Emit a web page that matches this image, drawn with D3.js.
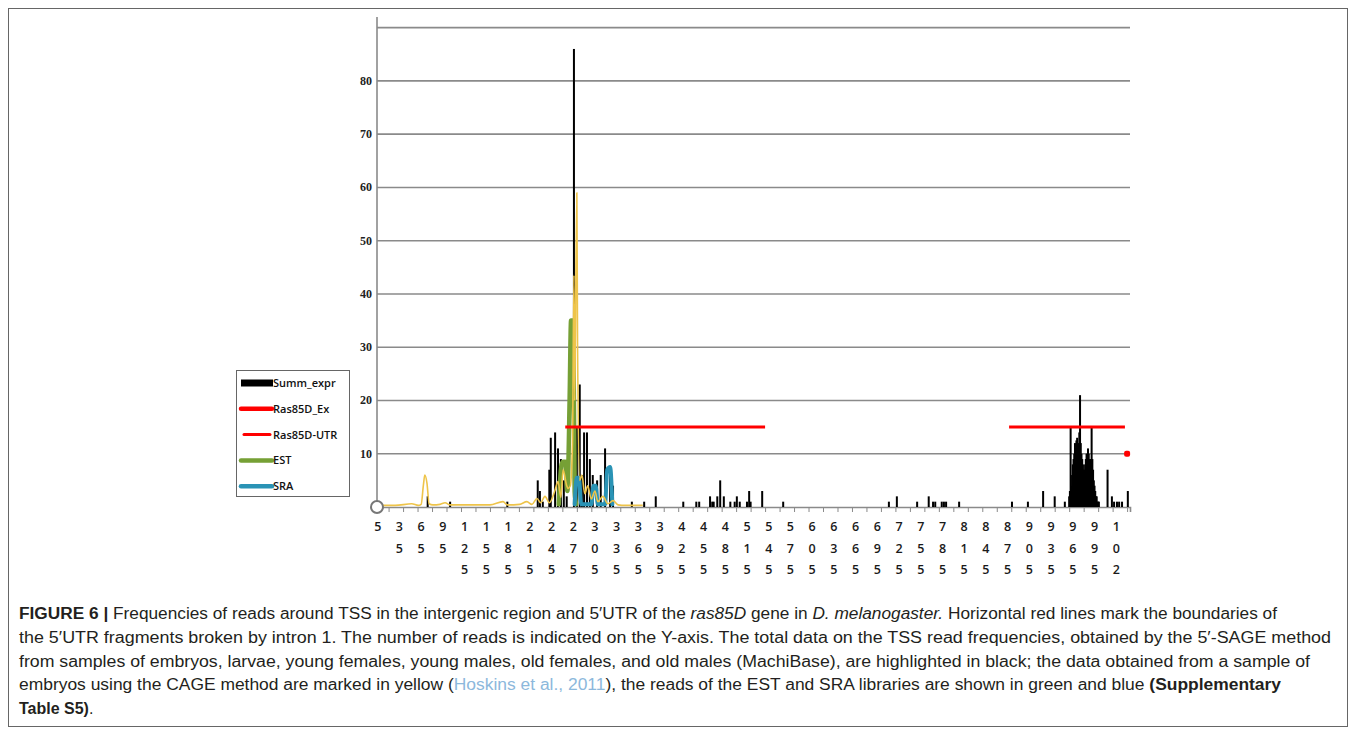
<!DOCTYPE html>
<html>
<head>
<meta charset="utf-8">
<script src="https://cdnjs.cloudflare.com/ajax/libs/d3/7.8.5/d3.min.js"></script>
<style>
  body { margin: 0; background: #fff; }
  svg { display: block; }
</style>
</head>
<body>
<svg id="drawing_region"></svg>
<script>
// x tick labels (positions along the intergenic region, every 30 bp)
const xLabels = ["5","35","65","95","125","155","185","215","245","275","305","335","365","395","425","455","485","515","545","575","605","635","665","695","725","755","785","815","845","875","905","935","965","995","1025"];
const xLabelPos = [5,35,65,95,125,155,185,215,245,275,305,335,365,395,425,455,485,515,545,575,605,635,665,695,725,755,785,815,845,875,905,935,965,995,1025];
const yTicks = [10,20,30,40,50,60,70,80,90];

// Summ_expr (5'-SAGE) reads: position, count
const summPos = [74,105,184,226,229,233,242,244,250,254,258,262,266,276,280,284,287,290,294,298,302,308,313,319,326,330,356,373,389,
  427,445,449,464,467,469,474,478,483,492,498,501,505,515,518,520,536,565,711,722,750,766,772,775,784,787,790,808,881,903,924,940,954,
  960,961,962,963,964,965,966,967,968,969,970,971,972,973,974,975,976,977,978,979,980,981,982,983,984,985,986,987,988,989,990,991,992,993,994,995,996,997,998,999,1000,1001,
  1013,1019,1022,1026,1029,1033,1041];
const summVal = [2,1,1,5,3,1,7,13,14,11,9,5,2,86,15,23,6,14,14,9,6,5,6,11,7,4,1,1,2,
  1,1,1,2,1,1,2,5,2,1,1,2,1,1,3,1,3,1,1,2,1,2,1,1,1,1,1,1,1,1,3,2,1,
  2,3,15,4,6,8,9,10,12,11,12.5,13,11,12,14,21,12,10,9,8,7,7,8,9,10,10,11,10,9,8,9,15,9,7,5,4,3,2,2,1,1,1,
  7,2,1,1,1,1,3];

// CAGE (yellow)
const cagePos = [8,29,52,61,65,68,70,73,76,81,91,98,105,126,160,178,184,201,211,218,225,230,236,242,250,254,258,261,266,268,271,274,276,277,280,281,284,287,291,295,300,305,309,316,323,330,337,347,371];
const cageVal = [0.3,0.3,0.6,0.3,0.5,4,6,4.5,0.6,0.4,0.5,0.8,0.4,0.4,0.4,1,0.4,0.5,1,0.5,1.6,0.8,2,0.8,3.2,4.8,1.8,7,4,3.5,4,12,43.5,20,59,30,5,6,2.5,4,1.5,3,1,2,0.6,1.2,0.4,0.3,0.3];

// EST (green)
const estPos = [255,259,261,264,267,270,272,275,277,279];
const estVal = [0.5,8,8.5,8.5,3,20,35,35,3,0.5];

// SRA (blue)
const sraPos = [277,280,283,286,300,303,306,309,319,322,326,329];
const sraVal = [0.5,5.5,5.5,0.5,0.5,4,4,0.5,0.5,7,7.5,0.5];

// Ras85D_Ex segments (start, end, level) and Ras85D-UTR point
const exStart = [264,877];
const exEnd = [540,1037];
const exLevel = [15,15];
const utrPos = [1040];
const utrVal = [10];

const legendNames = ["Summ_expr","Ras85D_Ex","Ras85D-UTR","EST","SRA"];
const legendColors = ["#000000","#ff0000","#ff0000","#76a035","#2a93b5"];

const captionLines = [
  [{t:"FIGURE 6 | ",b:1},{t:"Frequencies of reads around TSS in the intergenic region and 5′UTR of the "},{t:"ras85D",i:1},{t:" gene in "},{t:"D. melanogaster.",i:1},{t:" Horizontal red lines mark the boundaries of"}],
  [{t:"the 5′UTR fragments broken by intron 1. The number of reads is indicated on the Y-axis. The total data on the TSS read frequencies, obtained by the 5′-SAGE method"}],
  [{t:"from samples of embryos, larvae, young females, young males, old females, and old males (MachiBase), are highlighted in black; the data obtained from a sample of"}],
  [{t:"embryos using the CAGE method are marked in yellow ("},{t:"Hoskins et al., 2011",c:"#8cb8dc"},{t:"), the reads of the EST and SRA libraries are shown in green and blue "},{t:"(Supplementary",b:1}],
  [{t:"Table S5)",b:1},{t:"."}]
];
const captionWidths = [1258,1312,1291,1262,0];

const W = 1355, H = 737;
const svg = d3.select('#drawing_region').attr('width', W).attr('height', H);

// outer frame
svg.append('rect').attr('x', 8.5).attr('y', 8.5).attr('width', 1339).attr('height', 718)
  .attr('fill', 'none').attr('stroke', '#666').attr('stroke-width', 1);

const xscale = d3.scaleLinear().domain([4, 1044]).range([377, 1130]);
const yscale = d3.scaleLinear().domain([0, 92]).range([507, 17]);

// grid
svg.append('g').selectAll('line').data(yTicks).join('line')
  .attr('x1', xscale(4)).attr('x2', xscale(1044))
  .attr('y1', d => yscale(d)).attr('y2', d => yscale(d))
  .attr('stroke', '#8a8a8a').attr('stroke-width', 1.6);

// y axis line
svg.append('line').attr('x1', 377).attr('x2', 377).attr('y1', yscale(92)).attr('y2', yscale(0))
  .attr('stroke', '#8a8a8a').attr('stroke-width', 1.6);

// y tick labels
svg.append('g').selectAll('text').data(yTicks.filter(d => d < 90)).join('text')
  .attr('x', 372).attr('y', d => yscale(d) + 4)
  .attr('text-anchor', 'end')
  .attr('font-family', '"Liberation Serif", "DejaVu Serif", serif')
  .attr('font-size', '12px').attr('font-weight', 'bold').attr('fill', '#222')
  .text(d => d);

// x axis
const xaxis = d3.axisBottom(xscale).tickValues(d3.range(20, 1041, 20)).tickSize(5).tickFormat('');
const xg = svg.append('g').attr('transform', `translate(0, ${yscale(0)})`).call(xaxis);
xg.select('.domain').attr('stroke', '#8a8a8a').attr('stroke-width', 1.6);
xg.selectAll('.tick line').attr('stroke', '#8a8a8a').attr('stroke-width', 1);

// x labels as stacked digits
const lab = svg.append('g');
xLabels.forEach((s, i) => {
  const chars = s.split('').slice(0, 3);
  chars.forEach((c, j) => {
    lab.append('text')
      .attr('x', xscale(xLabelPos[i])).attr('y', 531 + j * 21.5)
      .attr('text-anchor', 'middle')
      .attr('font-family', '"Open Sans", "DejaVu Sans", sans-serif')
      .attr('font-size', '12.5px').attr('font-weight', 600).attr('fill', '#1a1a1a')
      .text(c);
  });
});

// black bars
svg.append('g').selectAll('rect').data(summPos).join('rect')
  .attr('x', d => xscale(d) - 1).attr('width', 2)
  .attr('y', (d, i) => yscale(summVal[i]))
  .attr('height', (d, i) => yscale(0) - yscale(summVal[i]))
  .attr('fill', '#000');

const lineGen = d3.line().x(d => xscale(d[0])).y(d => yscale(d[1])).curve(d3.curveMonotoneX);

svg.append('path').attr('d', lineGen(d3.zip(estPos, estVal)))
  .attr('fill', 'none').attr('stroke', '#76a035').attr('stroke-width', 4.5).attr('stroke-linejoin', 'round').attr('stroke-linecap', 'round');
svg.append('path').attr('d', lineGen(d3.zip(sraPos, sraVal)))
  .attr('fill', 'none').attr('stroke', '#2a93b5').attr('stroke-width', 4).attr('stroke-linejoin', 'round').attr('stroke-linecap', 'round');
svg.append('path').attr('d', lineGen(d3.zip(cagePos, cageVal)))
  .attr('fill', 'none').attr('stroke', '#eec44a').attr('stroke-width', 1.6).attr('stroke-linejoin', 'round');

// red segments
svg.append('g').selectAll('line').data(exStart).join('line')
  .attr('x1', d => xscale(d)).attr('x2', (d, i) => xscale(exEnd[i]))
  .attr('y1', (d, i) => yscale(exLevel[i])).attr('y2', (d, i) => yscale(exLevel[i]))
  .attr('stroke', '#ff0000').attr('stroke-width', 3);
svg.append('g').selectAll('rect').data(utrPos).join('rect')
  .attr('x', d => xscale(d) - 3).attr('y', (d, i) => yscale(utrVal[i]) - 3)
  .attr('width', 6).attr('height', 6).attr('rx', 2).attr('fill', '#ff0000');

// origin marker
svg.append('circle').attr('cx', xscale(4)).attr('cy', yscale(0)).attr('r', 6)
  .attr('fill', '#fff').attr('stroke', '#777').attr('stroke-width', 2);

// legend
const lg = svg.append('g');
lg.append('rect').attr('x', 236.5).attr('y', 370.5).attr('width', 113).attr('height', 126)
  .attr('fill', '#fff').attr('stroke', '#666');
legendNames.forEach((n, i) => {
  const y = 383 + i * 25.8;
  if (i === 0) {
    lg.append('rect').attr('x', 241).attr('y', y - 3.5).attr('width', 32).attr('height', 7).attr('fill', legendColors[i]);
  } else {
    lg.append('line').attr('x1', i === 2 ? 244 : 241).attr('x2', i === 2 ? 270 : 272).attr('y1', y).attr('y2', y)
      .attr('stroke', legendColors[i]).attr('stroke-width', i === 2 ? 3 : 4.5).attr('stroke-linecap', 'round');
  }
  lg.append('text').attr('x', 273).attr('y', y + 4)
    .attr('font-family', '"Open Sans", "DejaVu Sans", sans-serif').attr('font-size', '11px').attr('font-weight', 600).attr('fill', '#111')
    .text(n);
});

// caption
captionLines.forEach((parts, i) => {
  const t = svg.append('text').attr('x', 19).attr('y', 619 + i * 23.8)
    .attr('font-family', '"Liberation Sans", Arial, sans-serif')
    .attr('font-size', '16px').attr('fill', '#231f20');
  if (captionWidths[i] > 0) t.attr('textLength', captionWidths[i]).attr('lengthAdjust', 'spacingAndGlyphs');
  parts.forEach(p => {
    const s = t.append('tspan').text(p.t);
    if (p.b) s.attr('font-weight', 'bold');
    if (p.i) s.attr('font-style', 'italic');
    if (p.c) s.attr('fill', p.c);
  });
});
</script>
</body>
</html>
